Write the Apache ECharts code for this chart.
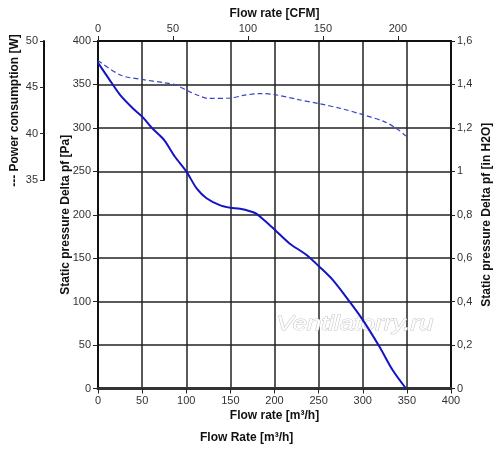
<!DOCTYPE html>
<html>
<head>
    <meta charset="UTF-8">
    <title>Fan curve</title>
    <script src="https://cdn.jsdelivr.net/npm/echarts@6/dist/echarts.min.js"></script>
    <style>
        html, body {margin: 0; padding: 0; background: #fff;}
        #chart {width: 500px; height: 454px;}
    </style>
</head>
<body>
<div id="chart"></div>
<script>
    // static pressure curve, flow in m3/h vs Pa
    var flowPa = [0, 12, 25, 40, 50, 62, 75, 87, 100, 112, 123, 138, 150, 161, 178, 188, 200, 217, 236, 250, 266, 285, 300, 319, 334, 349];
    var pressurePa = [375, 357, 338, 322, 313, 299, 286, 267, 250, 230, 219, 211, 208, 207, 202, 194, 183, 167, 154, 141, 125, 100, 79, 48, 21, 0];

    // power consumption curve (dashed), flow in m3/h vs W
    var flowPower = [0, 26, 50, 75, 87, 100, 113, 126, 150, 166, 185, 200, 227, 250, 276, 300, 325, 340, 349];
    var powerW = [47.9, 46.3, 45.85, 45.5, 45.3, 44.7, 44.15, 43.8, 43.85, 44.15, 44.33, 44.22, 43.68, 43.25, 42.7, 42.05, 41.27, 40.45, 39.73];

    var FONT = 'Liberation Sans, Arial, sans-serif';

    function pairs(xs, ys) {
        var out = [];
        for (var i = 0; i < xs.length; i++) {
            out.push([xs[i], ys[i]]);
        }
        return out;
    }

    var labelStyle = {color: '#333', fontSize: 11, fontFamily: FONT};
    var nameStyle = {color: '#111', fontSize: 12, fontWeight: 'bold', fontFamily: FONT};

    var myChart = echarts.init(document.getElementById('chart'), null, {renderer: 'canvas'});

    var option = {
        animation: false,
        backgroundColor: '#fff',
        grid: [
            {left: 98, top: 41, width: 353, height: 347.5, outerBoundsMode: 'none', containLabel: false},
            // small grid only for the power axis on the far left
            {left: 44, top: 41, width: 1, height: 139, outerBoundsMode: 'none', containLabel: false}
        ],
        xAxis: [
            {
                gridIndex: 0, type: 'value', position: 'bottom',
                min: 0, max: 400, interval: 50,
                name: 'Flow rate [m³/h]', nameLocation: 'middle', nameGap: 21, nameMoveOverlap: false,
                nameTextStyle: nameStyle,
                axisLine: {onZero: false, lineStyle: {color: '#333', width: 3}},
                axisTick: {length: 5, lineStyle: {color: '#222'}},
                axisLabel: Object.assign({margin: 7}, labelStyle),
                splitLine: {show: true, lineStyle: {color: '#222', width: 1.5}}
            },
            {
                gridIndex: 0, type: 'value', position: 'top',
                min: 0, max: 235.44, interval: 50,
                name: 'Flow rate [CFM]', nameLocation: 'middle', nameGap: 21, nameMoveOverlap: false,
                nameTextStyle: nameStyle,
                axisLine: {onZero: false, lineStyle: {color: '#111', width: 2}},
                axisTick: {length: 5, lineStyle: {color: '#222'}},
                axisLabel: Object.assign({margin: 7, showMaxLabel: false}, labelStyle),
                splitLine: {show: false}
            },
            {gridIndex: 1, type: 'value', show: false, min: 0, max: 1}
        ],
        yAxis: [
            {
                gridIndex: 0, type: 'value', position: 'left',
                min: 0, max: 400, interval: 50,
                name: 'Static pressure Delta pf [Pa]', nameLocation: 'middle', nameGap: 26, nameRotate: 90,
                nameMoveOverlap: false,
                nameTextStyle: nameStyle,
                axisLine: {show: true, onZero: false, lineStyle: {color: '#111', width: 2}},
                axisTick: {show: true, length: 5, lineStyle: {color: '#222'}},
                axisLabel: Object.assign({margin: 7}, labelStyle),
                splitLine: {show: true, lineStyle: {color: '#222', width: 1.5}}
            },
            {
                gridIndex: 0, type: 'value', position: 'right',
                min: 0, max: 1.6, interval: 0.2,
                name: 'Static pressure Delta pf [in H2O]', nameLocation: 'middle', nameGap: 30, nameRotate: 90,
                nameMoveOverlap: false,
                nameTextStyle: nameStyle,
                axisLine: {show: true, onZero: false, lineStyle: {color: '#111', width: 2}},
                axisTick: {show: true, length: 4, lineStyle: {color: '#222'}},
                axisLabel: Object.assign({
                    margin: 6,
                    formatter: function (v) { return String(Math.round(v * 10) / 10).replace('.', ','); }
                }, labelStyle),
                splitLine: {show: false}
            },
            // hidden scale the dashed power curve is drawn on
            {gridIndex: 0, type: 'value', show: false, min: 12.5, max: 50},
            {
                gridIndex: 1, type: 'value', position: 'left',
                min: 35, max: 50, interval: 5,
                name: '--- Power consumption [W]', nameLocation: 'middle', nameGap: 23, nameRotate: 90,
                nameMoveOverlap: false,
                nameTextStyle: nameStyle,
                axisLine: {show: true, onZero: false, lineStyle: {color: '#111', width: 2}},
                axisTick: {show: true, length: 4, lineStyle: {color: '#222'}},
                axisLabel: Object.assign({margin: 6}, labelStyle),
                splitLine: {show: false}
            }
        ],
        graphic: [
            {
                type: 'text', left: 276, top: 313, z: 5,
                scaleX: 1.22,
                style: {
                    text: 'Ventilatorry.ru', fontSize: 21, fontStyle: 'italic', fontFamily: FONT,
                    fill: '#fff', stroke: '#c8c8c8', lineWidth: 1
                }
            },
            {
                type: 'text', left: 200, top: 432,
                style: {
                    text: 'Flow Rate [m³/h]', fontSize: 12, fontWeight: 'bold', fontFamily: FONT, fill: '#111'
                }
            }
        ],
        series: [
            {
                name: 'Static pressure', type: 'line',
                xAxisIndex: 0, yAxisIndex: 0,
                data: pairs(flowPa, pressurePa),
                smooth: 0.3, showSymbol: false, z: 10,
                lineStyle: {color: '#1414c4', width: 2}
            },
            {
                name: 'Power consumption', type: 'line',
                xAxisIndex: 0, yAxisIndex: 2,
                data: pairs(flowPower, powerW),
                smooth: 0.3, showSymbol: false, z: 10,
                lineStyle: {color: '#3a44c8', width: 1.2, type: [5, 3]}
            }
        ]
    };

    myChart.setOption(option);
</script>
</body>
</html>
